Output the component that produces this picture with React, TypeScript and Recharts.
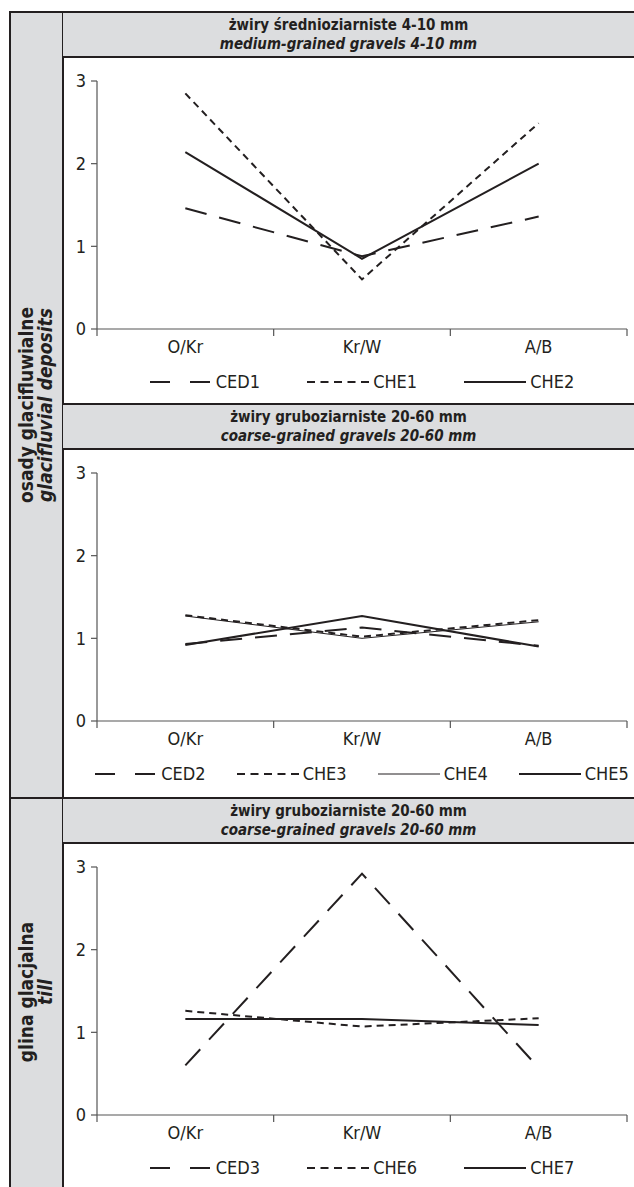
import React from "react";
import { LineChart, Line, XAxis, YAxis, Legend } from "recharts";

const categories = ["O/Kr", "Kr/W", "A/B"];
const yTicks = [0, 1, 2, 3];
const xTicks = [0, 0.5, 1, 1.5, 2, 2.5, 3];

// panel 1 – medium-grained gravels
const ced1 = [1.46, 0.88, 1.36];
const che1 = [2.85, 0.6, 2.49];
const che2 = [2.14, 0.85, 2.0];

// panel 2 – coarse-grained gravels (glaciofluvial)
const ced2 = [0.93, 1.13, 0.91];
const che3 = [1.28, 1.02, 1.22];
const che4 = [1.27, 1.0, 1.2];
const che5 = [0.92, 1.27, 0.9];

// panel 3 – coarse-grained gravels (till)
const ced3 = [0.6, 2.92, 0.57];
const che6 = [1.26, 1.07, 1.17];
const che7 = [1.16, 1.16, 1.09];

const INK = "#231f20";
const AXIS = "#555";
const GRAY = "#dcdddf";
const FONT = '"DejaVu Sans Condensed", "Liberation Sans Narrow", sans-serif';

type Style = "long" | "short" | "solid" | "thin";

const dash: Record<Style, string | undefined> = {
  long: "22 13",
  short: "7 5",
  solid: undefined,
  thin: undefined,
};
const legendDash: Record<Style, string | undefined> = {
  long: "20 20",
  short: "8 5.5",
  solid: undefined,
  thin: undefined,
};
const width: Record<Style, number> = { long: 2, short: 2, solid: 2, thin: 1 };

type Series = { name: string; values: number[]; style: Style };

function buildData(series: Series[]) {
  return categories.map((c, i) => {
    const row: any = { pos: i + 0.5, cat: c };
    series.forEach((s) => (row[s.name] = s.values[i]));
    return row;
  });
}

const XTick = (props: any) => {
  const { x, y, payload } = props;
  const v = payload.value;
  if (Number.isInteger(v)) {
    return <line x1={x} x2={x} y1={y} y2={y + 7} stroke={AXIS} strokeWidth={1.2} />;
  }
  return (
    <text x={x} y={y + 18} dy="0.36em" textAnchor="middle" fill={INK} fontSize={18} fontFamily={FONT}>
      {categories[Math.floor(v)]}
    </text>
  );
};

function makeLegend(series: Series[], gap: number) {
  return () => (
    <div style={{ display: "flex", justifyContent: "center", gap, lineHeight: "26px", fontFamily: FONT, fontSize: 18, color: INK }}>
      {series.map((s) => (
        <div key={s.name} style={{ display: "flex", alignItems: "center" }}>
          <svg width={62} height={10} style={{ marginRight: 4 }}>
            <line x1={0} x2={62} y1={5} y2={5} stroke={INK} strokeWidth={width[s.style]} strokeDasharray={legendDash[s.style]} />
          </svg>
          <span>{s.name}</span>
        </div>
      ))}
    </div>
  );
}

type PanelProps = {
  top: number;
  bottom: number;
  titlePl: string;
  titleEn: string;
  series: Series[];
  gap: number;
};

function Panel({ top, bottom, titlePl, titleEn, series, gap }: PanelProps) {
  const chartTop = top + 47;
  const h = bottom - chartTop;
  const data = buildData(series);
  return (
    <>
      <div
        style={{
          position: "absolute",
          left: 63,
          top,
          width: 571,
          height: 47,
          boxSizing: "border-box",
          borderTop: `2px solid ${INK}`,
          borderBottom: `2px solid ${INK}`,
          background: GRAY,
          textAlign: "center",
          fontFamily: FONT,
          fontWeight: "bold",
          fontSize: 15,
          lineHeight: "19px",
          paddingTop: 3,
          color: INK,
        }}
      >
        <div>{titlePl}</div>
        <div style={{ fontStyle: "italic" }}>{titleEn}</div>
      </div>
      <div style={{ position: "absolute", left: 63, top: chartTop }}>
        <LineChart width={571} height={h} data={data} margin={{ top: 23, right: 7, bottom: 0, left: 0 }}>
          <XAxis
            dataKey="pos"
            type="number"
            domain={[0, 3]}
            ticks={xTicks}
            interval={0}
            tick={<XTick />}
            tickLine={false}
            tickSize={0}
            tickMargin={0}
            axisLine={{ stroke: AXIS, strokeWidth: 1.2 }}
            height={40}
          />
          <YAxis
            domain={[0, 3]}
            ticks={yTicks}
            interval={0}
            width={34}
            tickSize={6}
            tickMargin={5}
            tickLine={{ stroke: AXIS, strokeWidth: 1.2 }}
            axisLine={{ stroke: AXIS, strokeWidth: 1.2 }}
            tick={{ fill: INK, fontSize: 18, fontFamily: FONT }}
          />
          {series.map((s) => (
            <Line
              key={s.name}
              type="linear"
              dataKey={s.name}
              stroke={INK}
              strokeWidth={width[s.style]}
              strokeDasharray={dash[s.style]}
              dot={false}
              activeDot={false}
              isAnimationActive={false}
            />
          ))}
          <Legend
            verticalAlign="bottom"
            content={makeLegend(series, gap)}
            wrapperStyle={{ left: 34, width: 530, height: h - 23 - 248 - 40 }}
          />
        </LineChart>
      </div>
    </>
  );
}

export default function App() {
  return (
    <div style={{ position: "absolute", left: 0, top: 0, width: 634, height: 1187, background: "#fff", overflow: "hidden" }}>
      {/* left column */}
      <div
        style={{
          position: "absolute",
          left: 9,
          top: 11,
          width: 55,
          height: 1176,
          boxSizing: "border-box",
          borderLeft: `2px solid ${INK}`,
          borderTop: `2px solid ${INK}`,
          borderRight: `2px solid ${INK}`,
          background: GRAY,
        }}
      />
      <div style={{ position: "absolute", left: 9, top: 797, width: 55, height: 2, background: INK }} />
      <div
        style={{
          position: "absolute",
          left: 36,
          top: 405,
          transform: "translate(-50%, -50%) rotate(-90deg)",
          whiteSpace: "nowrap",
          textAlign: "center",
          fontFamily: FONT,
          fontWeight: "bold",
          fontSize: 19,
          lineHeight: "19px",
          color: INK,
        }}
      >
        <div>osady glacifluwialne</div>
        <div style={{ fontStyle: "italic" }}>glacifluvial deposits</div>
      </div>
      <div
        style={{
          position: "absolute",
          left: 36,
          top: 992,
          transform: "translate(-50%, -50%) rotate(-90deg)",
          whiteSpace: "nowrap",
          textAlign: "center",
          fontFamily: FONT,
          fontWeight: "bold",
          fontSize: 19,
          lineHeight: "19px",
          color: INK,
        }}
      >
        <div>glina glacjalna</div>
        <div style={{ fontStyle: "italic" }}>till</div>
      </div>

      <Panel
        top={11}
        bottom={403}
        titlePl="żwiry średnioziarniste 4-10 mm"
        titleEn="medium-grained gravels 4-10 mm"
        gap={47}
        series={[
          { name: "CED1", values: ced1, style: "long" },
          { name: "CHE1", values: che1, style: "short" },
          { name: "CHE2", values: che2, style: "solid" },
        ]}
      />
      <Panel
        top={403}
        bottom={797}
        titlePl="żwiry gruboziarniste 20-60 mm"
        titleEn="coarse-grained gravels 20-60 mm"
        gap={31}
        series={[
          { name: "CED2", values: ced2, style: "long" },
          { name: "CHE3", values: che3, style: "short" },
          { name: "CHE4", values: che4, style: "thin" },
          { name: "CHE5", values: che5, style: "solid" },
        ]}
      />
      <Panel
        top={797}
        bottom={1187}
        titlePl="żwiry gruboziarniste 20-60 mm"
        titleEn="coarse-grained gravels 20-60 mm"
        gap={47}
        series={[
          { name: "CED3", values: ced3, style: "long" },
          { name: "CHE6", values: che6, style: "short" },
          { name: "CHE7", values: che7, style: "solid" },
        ]}
      />
    </div>
  );
}
